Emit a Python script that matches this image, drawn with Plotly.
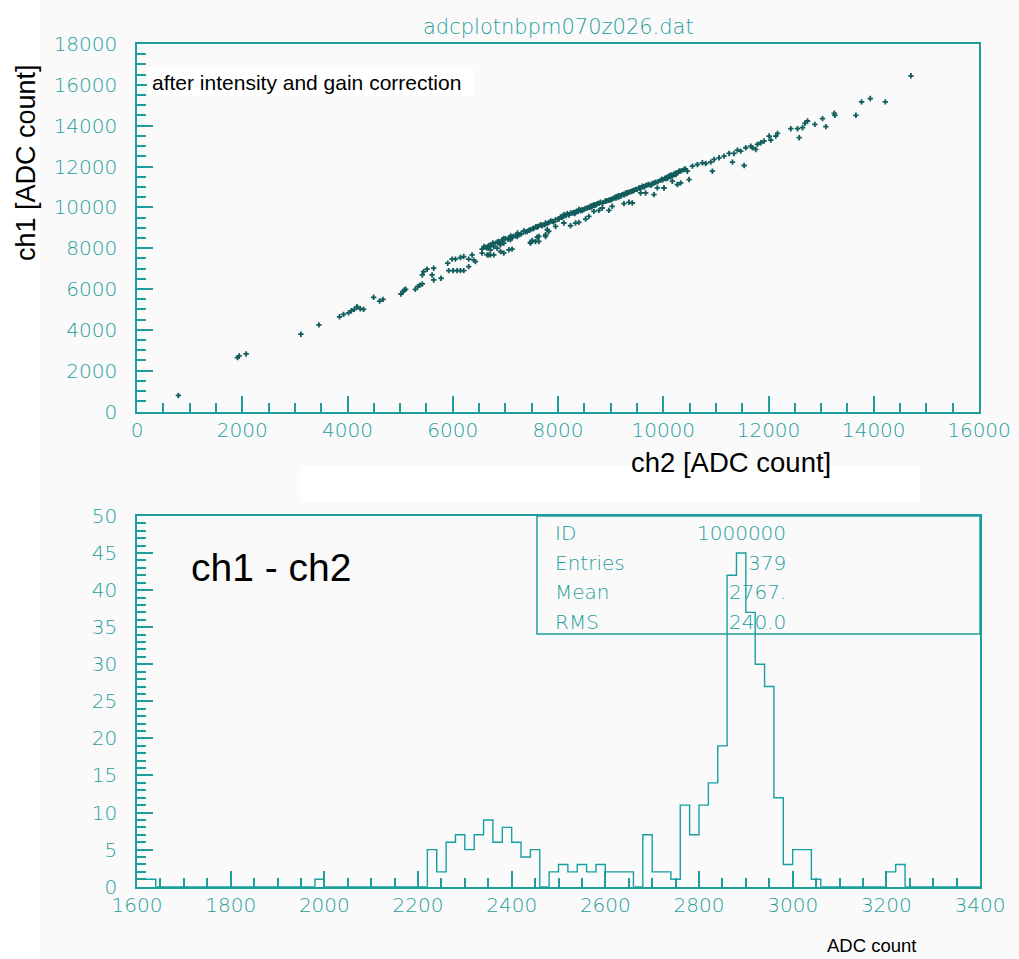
import plotly.graph_objects as go

# ---------------- scatter data (ch2, ch1) ----------------
low_ch2 = [786, 1908, 1941, 2074, 3114, 3457, 3849, 3925, 4020, 4072, 4129, 4180, 4243, 4306, 4497, 4611, 4675]
low_ch1 = [787, 2641, 2720, 2818, 3787, 4245, 4638, 4756, 4835, 4933, 5002, 5130, 5032, 5002, 5593, 5411, 5494]

mid_ch2 = [5017, 5055, 5080, 5105, 5289, 5333, 5371, 5422, 5422, 5447, 5512, 5638, 5607, 5638, 5778]
mid_ch1 = [5755, 5886, 5952, 5985, 5985, 6114, 6182, 6247, 6689, 6852, 6970, 7019, 6689, 6443, 6527]

row_ch2 = [5923, 6006, 6082, 6145, 6208, 5904, 5987, 6050, 6145, 6208, 6303, 6368, 6398]
row_ch1 = [6901, 6901, 6901, 6901, 6901, 7264, 7461, 7461, 7540, 7589, 7461, 7672, 7427]

lowgrp_ch2 = [6303, 6430, 6558, 6684, 6716, 6779, 6843, 6906, 6970, 7097, 7224, 7477, 7572, 7636, 7763, 7795, 7953, 8111]
lowgrp_ch1 = [7097, 7343, 7756, 7672, 7918, 8080, 8002, 8164, 8248, 8410, 8573, 8248, 8327, 8573, 8656, 8902, 9064, 9233]

band_ch2 = [6558, 6621, 6716, 6811, 6875, 6938, 7002, 7065, 7128, 7192,
            7255, 7414, 7477, 7541, 7604, 7668, 7763, 7826, 7890, 7953,
            8048, 8112, 8175, 8238, 8302, 8365, 8429, 8492, 8555, 8619,
            8682, 8746, 8809, 8904, 8968, 9031, 9095, 9158, 9221, 9285,
            9348, 9443, 9538, 9602, 9665, 9729, 9792, 9856, 9951, 10046,
            10141, 10204, 10268, 10318]
band_ch1 = [7952, 8050, 8165, 8247, 8328, 8410, 8460, 8492, 8542, 8607,
            8656, 8820, 8902, 8984, 9033, 9148, 9230, 9263, 9312, 9394,
            9525, 9640, 9689, 9722, 9754, 9804, 9836, 9886, 9968, 10050,
            10131, 10181, 10246, 10295, 10344, 10410, 10508, 10574, 10623, 10705,
            10738, 10836, 10951, 11033, 11066, 11115, 11164, 11230, 11328, 11394,
            11492, 11607, 11688, 11770]

band2_ch2 = [6590, 6680, 6760, 6850, 6970, 7100, 7230, 7300, 7350, 7450,
             7520, 7580, 7700, 7800, 7860, 7920, 8000, 8080, 8150, 8210,
             8280, 8340, 8400, 8460, 8520, 8590, 8650, 8720, 8780, 8850,
             8930, 9000, 9060, 9120, 9190, 9250, 9310, 9380, 9420, 9480,
             9570, 9640, 9700, 9770, 9830, 9900, 9990, 10080, 10170, 10240]
band2_ch1 = [8080, 8120, 8250, 8300, 8480, 8600, 8740, 8700, 8850, 8880,
             8950, 9050, 9120, 9200, 9330, 9280, 9420, 9500, 9600, 9620,
             9720, 9770, 9900, 9850, 9950, 10000, 10080, 10120, 10200, 10210,
             10330, 10370, 10450, 10530, 10560, 10640, 10700, 10760, 10800, 10880,
             10930, 11000, 11100, 11080, 11200, 11260, 11350, 11420, 11540, 11600]

band3_ch2 = [6650, 6700, 6900, 7050, 7150, 7300, 7380, 7620, 7700, 7750,
             8020, 8100, 8320, 8380, 8450, 8600, 8640, 8700, 8900, 9000,
             9100, 9150, 9200, 9260, 9300, 9330, 9400, 9500, 9560, 9620,
             9980, 10030, 10080, 10130, 10160, 10200, 10350, 10420]
band3_ch1 = [8000, 8100, 8230, 8440, 8580, 8700, 8800, 9060, 9090, 9150,
             9430, 9560, 9700, 9800, 9880, 9990, 10010, 10100, 10300, 10380,
             10450, 10480, 10560, 10620, 10660, 10720, 10780, 10880, 10940, 11010,
             11380, 11420, 11480, 11560, 11590, 11620, 11800, 11880]

under_ch2 = [6653, 6716, 6780, 6907, 6970, 7065, 7128, 7477, 7509, 7604,
             7636, 7763, 7826, 8238, 8333, 8397, 8524, 8587, 8682, 8777,
             8841, 8968, 9031, 9253, 9348, 9412, 9570, 9665, 9824, 9887, 10014]
under_ch1 = [7673, 7673, 7673, 7837, 7755, 7919, 7952, 8279, 8378, 8542,
             8328, 8574, 8820, 9099, 9230, 9263, 9427, 9558, 9804, 9853,
             9968, 9853, 10050, 10181, 10246, 10213, 10705, 10705, 10623, 10951, 10951]

high_ch2 = [10014, 10046, 10110, 10173, 10236, 10268, 10300, 10332, 10395, 10458,
            10490, 10554, 10649, 10744, 10807, 10902, 10966, 10934, 11061, 11156,
            11251, 11315, 11346, 11410, 11473, 11537, 11568, 11663, 11695, 11758,
            11790, 11854, 11917, 12012, 12044, 12171, 12139, 12424, 12551, 12583,
            12646, 12691, 12741, 12881, 13027, 13090, 13249, 13262, 13661, 13769,
            13934, 14219, 14707]
high_ch1 = [10951, 11443, 11525, 11279, 11689, 11115, 11771, 11197, 11853, 11771,
            11361, 12017, 12099, 12181, 12148, 12213, 12345, 11771, 12426, 12508,
            12640, 12213, 12640, 12803, 12754, 12049, 12918, 13000, 12918, 12836,
            13082, 13164, 13246, 13492, 13295, 13623, 13492, 13852, 13852, 13410,
            13901, 14115, 14229, 14065, 14344, 13951, 14606, 14508, 14508, 15165,
            15329, 15165, 16443]

ch2_all = low_ch2 + mid_ch2 + row_ch2 + lowgrp_ch2 + band_ch2 + band2_ch2 + band3_ch2 + under_ch2 + high_ch2
ch1_all = low_ch1 + mid_ch1 + row_ch1 + lowgrp_ch1 + band_ch1 + band2_ch1 + band3_ch1 + under_ch1 + high_ch1

# ---------------- histogram (ch1 - ch2), 20-count bins from 1600 ----------------
hist_start = 1600
hist_bin_width = 20
hist_counts = [1, 1, 0, 0, 0, 0, 0, 0, 0, 0,          # 1600-1780
               0, 0, 0, 0, 0, 0, 0, 0, 0, 1,          # 1800-1980
               0, 0, 0, 0, 0, 0, 0, 0, 0, 0,          # 2000-2180
               0, 5, 2, 6, 7, 5, 7, 9, 6, 8,          # 2200-2380
               6, 4, 5, 0, 2, 3, 2, 3, 2, 3,          # 2400-2580
               2, 2, 2, 0, 7, 2, 2, 1, 11, 7,         # 2600-2780
               11, 14, 19, 42, 45, 37, 30, 27, 12, 3,  # 2800-2980
               5, 5, 1, 0, 0, 0, 0, 0, 0, 0,          # 3000-3180
               2, 3, 0, 0, 0, 0, 0, 0, 0, 0]          # 3200-3380

stats_labels = ["ID", "Entries", "Mean", "RMS"]
stats_values = ["1000000", "379", "2767.", "240.0"]

TEAL = "#1f9d9d"
HIST = "#17a0a0"
W, H = 1019, 959

def px(x):
    return x / W

def py(y):
    return 1 - y / H

edges = [hist_start + hist_bin_width * i for i in range(len(hist_counts) + 1)]
step_y = hist_counts + [hist_counts[-1]]

fig = go.Figure()
fig.add_trace(go.Scatter(x=ch2_all, y=ch1_all, mode="markers",
                         marker=dict(symbol="cross", size=4.5, color="#125c5c"),
                         xaxis="x", yaxis="y", hoverinfo="skip"))
fig.add_trace(go.Scatter(x=edges, y=step_y, mode="lines", line_shape="hv",
                         line=dict(color=HIST, width=1.4),
                         xaxis="x2", yaxis="y2", hoverinfo="skip"))

tickfont = dict(family="DejaVu Sans", size=20, color=TEAL, weight=300)

def axis(domain, rng, dtick, mdtick, anchor, standoff=None):
    d = dict(domain=domain, range=rng, anchor=anchor, tickmode="linear", tick0=rng[0], dtick=dtick,
             tickformat="d", automargin=False,
             ticks="inside", ticklen=16, tickwidth=1.5, tickcolor=TEAL,
             minor=dict(dtick=mdtick, tick0=rng[0], ticks="inside", ticklen=9, tickwidth=1.5, tickcolor=TEAL),
             showline=True, mirror=True, linecolor=TEAL, linewidth=1.5,
             showgrid=False, zeroline=False, tickfont=tickfont)
    if standoff is not None:
        d["ticklabelstandoff"] = standoff
    return d

fig.update_layout(
    template="none",
    width=W, height=H, margin=dict(l=0, r=0, t=0, b=0, pad=0, autoexpand=False),
    paper_bgcolor="#fafafa", plot_bgcolor="rgba(0,0,0,0)", showlegend=False,
    xaxis=axis([px(137), px(979)], [0, 16000], 2000, 500, "y"),
    yaxis=axis([py(411.5), py(44)], [0, 18000], 2000, 500, "x", 14),
    xaxis2=axis([px(137), px(980)], [1600, 3400], 200, 50, "y2"),
    yaxis2=axis([py(886.7), py(516)], [0, 50], 5, 1, "x2", 14),
)

shapes = [
    dict(type="rect", xref="paper", yref="paper", x0=0, x1=px(40), y0=0, y1=1,
         fillcolor="white", line_width=0, layer="below"),
    dict(type="rect", xref="paper", yref="paper", x0=px(147), x1=px(473), y0=py(96), y1=py(68),
         fillcolor="white", line_width=0, layer="above"),
    dict(type="rect", xref="paper", yref="paper", x0=px(300), x1=px(920), y0=py(502), y1=py(466),
         fillcolor="white", line_width=0, layer="above"),
    dict(type="rect", xref="paper", yref="paper", x0=px(537), x1=px(980), y0=py(634), y1=py(516),
         fillcolor="rgba(0,0,0,0)", line=dict(color=TEAL, width=1.5), layer="above"),
]
fig.update_layout(shapes=shapes)

def note(text, x, y, size, color="black", family="Liberation Sans", weight=None, xanchor="center", angle=0):
    f = dict(family=family, size=size, color=color)
    if weight is not None:
        f["weight"] = weight
    return dict(text=text, x=px(x), y=py(y), xref="paper", yref="paper", xanchor=xanchor,
                yanchor="middle", textangle=angle, showarrow=False, font=f)

ann = [
    note("adcplotnbpm070z026.dat", 558, 27, 21, TEAL, "DejaVu Sans", 300),
    note("after intensity and gain correction", 150, 82, 21, xanchor="left"),
    note("ch1 [ADC count]", 26, 163, 27, angle=-90),
    note("ch2 [ADC count]", 731, 462, 27.5),
    note("ch1 - ch2", 271, 567, 39),
    note("ADC count", 871, 945, 18.5),
]
row_y = [533, 563, 592, 622]
for lab, val, yy in zip(stats_labels, stats_values, row_y):
    ann.append(note(lab, 553, yy, 20, TEAL, "DejaVu Sans", 300, xanchor="left"))
    ann.append(note(val, 788, yy, 20, TEAL, "DejaVu Sans", 300, xanchor="right"))
fig.update_layout(annotations=ann)

fig.write_html("out.html", config={"responsive": False, "displayModeBar": False},
               post_script="document.body.style.margin='0px';document.body.style.padding='0px';")
